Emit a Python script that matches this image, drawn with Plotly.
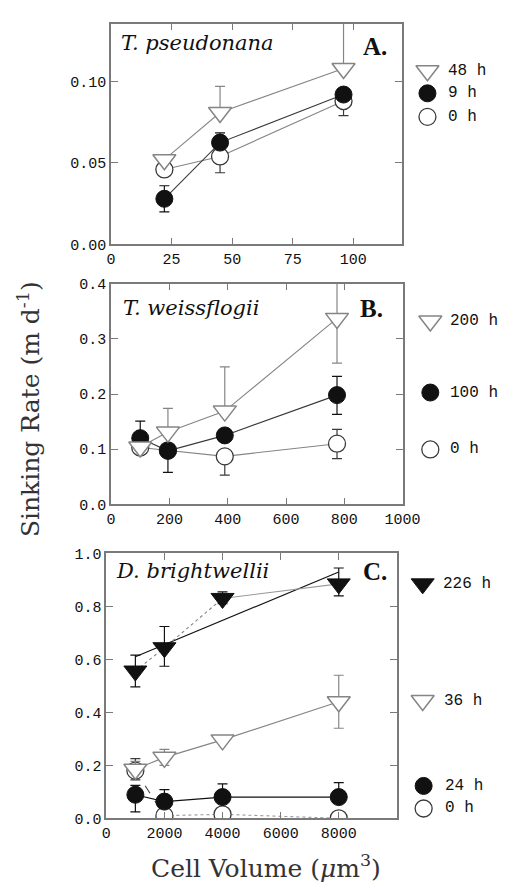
import plotly.graph_objects as go

W, H = 520, 895

# ---------------- data ----------------
# Panel A: T. pseudonana
a_vol = [22, 45, 96]
a_0h = [0.046, 0.054, 0.088]
a_0h_up = [0.0, 0.0, 0.0]
a_0h_dn = [0.0, 0.010, 0.009]
a_9h = [0.028, 0.0625, 0.092]
a_9h_up = [0.008, 0.006, 0.0]
a_9h_dn = [0.008, 0.0, 0.0]
a_48h = [0.052, 0.081, 0.108]
a_48h_up = [0.0, 0.016, 0.04]
a_48h_dn = [0.0, 0.0, 0.0]

# Panel B: T. weissflogii
b_vol = [100, 195, 390, 775]
b_0h = [0.103, 0.098, 0.087, 0.110]
b_0h_up = [0.0, 0.0, 0.0, 0.026]
b_0h_dn = [0.0, 0.0, 0.034, 0.027]
b_100h = [0.120, 0.097, 0.125, 0.198]
b_100h_up = [0.031, 0.0, 0.0, 0.034]
b_100h_dn = [0.0, 0.039, 0.0, 0.035]
b_200h = [0.104, 0.131, 0.169, 0.337]
b_200h_up = [0.0, 0.043, 0.080, 0.10]
b_200h_dn = [0.0, 0.0, 0.0, 0.081]

# Panel C: D. brightwellii
c_vol = [1000, 2000, 4000, 8000]
c_0h = [0.18, 0.01, 0.015, 0.0]
c_0h_up = [0.045, 0.0, 0.0, 0.0]
c_0h_dn = [0.035, 0.0, 0.0, 0.0]
c_24h = [0.089, 0.063, 0.080, 0.080]
c_24h_up = [0.035, 0.045, 0.050, 0.055]
c_24h_dn = [0.065, 0.0, 0.0, 0.0]
c_36h = [0.185, 0.230, 0.296, 0.440]
c_36h_up = [0.03, 0.03, 0.0, 0.10]
c_36h_dn = [0.0, 0.03, 0.0, 0.10]
c_226h = [0.556, 0.644, 0.830, 0.885]
c_226h_up = [0.06, 0.08, 0.025, 0.06]
c_226h_dn = [0.06, 0.07, 0.02, 0.045]
c_226h_fit_vol = [1000, 8000]
c_226h_fit = [0.61, 0.93]

a_xticks = [0, 25, 50, 75, 100]
a_yticks = [0.00, 0.05, 0.10]
b_xticks = [0, 200, 400, 600, 800, 1000]
b_yticks = [0.0, 0.1, 0.2, 0.3, 0.4]
c_xticks = [0, 2000, 4000, 6000, 8000]
c_yticks = [0.0, 0.2, 0.4, 0.6, 0.8, 1.0]

# ---------------- styles ----------------
MONO = "Liberation Mono"
SERIF = "DejaVu Serif"
BLACK = "#111111"
DARK = "#3a3a3a"
GRAY = "#858585"
FRAME = "#7a7a7a"
MS_C = 17
MS_T = 20

STY = {
    "open_circle": dict(symbol="circle", size=MS_C, color="white", line=dict(color=DARK, width=1.3)),
    "filled_circle": dict(symbol="circle", size=MS_C, color=BLACK, line=dict(color=BLACK, width=1)),
    "open_tri": dict(symbol="triangle-down", size=MS_T, color="white", line=dict(color=GRAY, width=1.5)),
    "filled_tri": dict(symbol="triangle-down", size=MS_T, color=BLACK, line=dict(color=BLACK, width=1)),
}


def px_x(p):
    return p / W


def px_y(p):
    return 1 - p / H


fig = go.Figure()


def line_only(xa, ya, x, y, lcolor, dash="solid", lw=1.1):
    fig.add_trace(go.Scatter(x=x, y=y, mode="lines", xaxis=xa, yaxis=ya,
                             line=dict(color=lcolor, width=lw, dash=dash),
                             showlegend=False, hoverinfo="skip"))


def series(xa, ya, x, y, up, dn, mstyle, lcolor, ecolor, dash="solid", lw=1.1, mode="lines+markers"):
    fig.add_trace(go.Scatter(
        x=x, y=y, mode=mode, xaxis=xa, yaxis=ya,
        marker=dict(STY[mstyle]), line=dict(color=lcolor, width=lw, dash=dash),
        error_y=dict(type="data", symmetric=False, array=up, arrayminus=dn,
                     color=ecolor, thickness=1.2, width=5),
        showlegend=False, hoverinfo="skip"))


# Panel A
series("x", "y", a_vol, a_0h, a_0h_up, a_0h_dn, "open_circle", GRAY, DARK)
series("x", "y", a_vol, a_9h, a_9h_up, a_9h_dn, "filled_circle", DARK, BLACK)
series("x", "y", a_vol, a_48h, a_48h_up, a_48h_dn, "open_tri", GRAY, GRAY)

# Panel B
series("x2", "y2", b_vol, b_0h, b_0h_up, b_0h_dn, "open_circle", GRAY, DARK)
series("x2", "y2", b_vol, b_100h, b_100h_up, b_100h_dn, "filled_circle", DARK, BLACK)
series("x2", "y2", b_vol, b_200h, b_200h_up, b_200h_dn, "open_tri", GRAY, GRAY)

# Panel C
line_only("x3", "y3", c_vol[:2], c_0h[:2], "#444444", dash="dash")
line_only("x3", "y3", c_vol[1:], c_0h[1:], "#999999", dash="dot")
series("x3", "y3", c_vol, c_0h, c_0h_up, c_0h_dn, "open_circle", DARK, DARK, mode="markers")
series("x3", "y3", c_vol, c_24h, c_24h_up, c_24h_dn, "filled_circle", BLACK, BLACK)
series("x3", "y3", c_vol, c_36h, c_36h_up, c_36h_dn, "open_tri", GRAY, GRAY)
line_only("x3", "y3", c_226h_fit_vol, c_226h_fit, BLACK, lw=1.2)
line_only("x3", "y3", c_vol[:3], c_226h[:3], GRAY, dash="dot")
line_only("x3", "y3", c_vol[2:], c_226h[2:], "#999999")
series("x3", "y3", c_vol, c_226h, c_226h_up, c_226h_dn, "filled_tri", GRAY, BLACK, mode="markers")

# ---------------- legends (drawn on a hidden full-page axis) ----------------
LEGEND_ITEMS = [
    # (marker style, label, marker px x, text px x, px y)
    ("open_tri", "48 h", 442, 461, 65),
    ("filled_circle", "9 h", 442, 461, 88),
    ("open_circle", "0 h", 442, 461, 112),
    ("open_tri", "200 h", 445, 463, 320),
    ("filled_circle", "100 h", 445, 464, 393),
    ("open_circle", "0 h", 445, 464, 451),
    ("filled_tri", "226 h", 437, 456, 588),
    ("open_tri", "36 h", 437, 457, 707),
    ("filled_circle", "24 h", 438, 458, 794),
    ("open_circle", "0 h", 438, 458, 817),
]
annotations = []
for sty, lab, mx, tx, py in LEGEND_ITEMS:
    fig.add_trace(go.Scatter(x=[px_x(mx)], y=[px_y(py)], mode="markers", xaxis="x4", yaxis="y4",
                             marker=dict(STY[sty]), showlegend=False, hoverinfo="skip",
                             cliponaxis=False))
    annotations.append(dict(text=lab, x=px_x(tx), y=px_y(py), xref="paper", yref="paper",
                            xanchor="left", yanchor="middle", showarrow=False,
                            font=dict(family=MONO, size=16, color=BLACK)))

# Panel titles
for txt, px, py in [("<i>T. pseudonana</i>", 119, 37), ("<i>T. weissflogii</i>", 121, 307),
                    ("<i>D. brightwellii</i>", 114, 575)]:
    annotations.append(dict(text=txt, x=px_x(px), y=px_y(py), xref="paper", yref="paper",
                            xanchor="left", yanchor="middle", showarrow=False,
                            font=dict(family=SERIF, size=21, color=BLACK)))
for txt, px, py in [("<b>A.</b>", 372, 40), ("<b>B.</b>", 369, 307), ("<b>C.</b>", 372, 575)]:
    annotations.append(dict(text=txt, x=px_x(px), y=px_y(py), xref="paper", yref="paper",
                            xanchor="left", yanchor="middle", showarrow=False,
                            font=dict(family="Liberation Serif", size=25, color=BLACK)))

# Axis titles
annotations.append(dict(text="Sinking Rate (m d<sup>-1</sup>)", x=px_x(25), y=px_y(410),
                        xref="paper", yref="paper", textangle=-90, showarrow=False,
                        xanchor="center", yanchor="middle",
                        font=dict(family=SERIF, size=25, color="#333333")))
annotations.append(dict(text="Cell Volume (<i>\u03bc</i>m<sup>3</sup>)", x=px_x(273), y=px_y(876),
                        xref="paper", yref="paper", showarrow=False,
                        xanchor="center", yanchor="middle",
                        font=dict(family=SERIF, size=25, color="#333333")))


def axis(domain, rng, tickvals, fmt=None, anchor=None):
    d = dict(domain=domain, range=rng, tickvals=tickvals, showgrid=False, zeroline=False,
             showline=True, mirror="ticks", linecolor=FRAME, linewidth=1.5,
             ticks="inside", ticklen=7, tickcolor=FRAME, tickwidth=1.2,
             tickfont=dict(family=MONO, size=15, color=BLACK), fixedrange=True)
    if fmt:
        d["tickformat"] = fmt
    if anchor:
        d["anchor"] = anchor
    return d


fig.update_layout(
    width=W, height=H, margin=dict(l=0, r=0, t=0, b=0),
    paper_bgcolor="white", plot_bgcolor="rgba(0,0,0,0)",
    xaxis=axis([px_x(111), px_x(415)], [0, 120], a_xticks, anchor="y"),
    yaxis=axis([px_y(242), px_y(17)], [0, 0.1355], a_yticks, ".2f", anchor="x"),
    xaxis2=axis([px_x(111), px_x(416)], [0, 1000], b_xticks, anchor="y2"),
    yaxis2=axis([px_y(507), px_y(282)], [0, 0.4], b_yticks, ".1f", anchor="x2"),
    xaxis3=axis([px_x(106), px_x(410)], [0, 10000], c_xticks, anchor="y3"),
    yaxis3=axis([px_y(827), px_y(557)], [0, 1.0], c_yticks, ".1f", anchor="x3"),
    xaxis4=dict(domain=[0, 1], range=[0, 1], visible=False, anchor="y4", fixedrange=True),
    yaxis4=dict(domain=[0, 1], range=[0, 1], visible=False, anchor="x4", fixedrange=True),
    annotations=annotations,
    showlegend=False,
)

fig.write_html("out.html")
